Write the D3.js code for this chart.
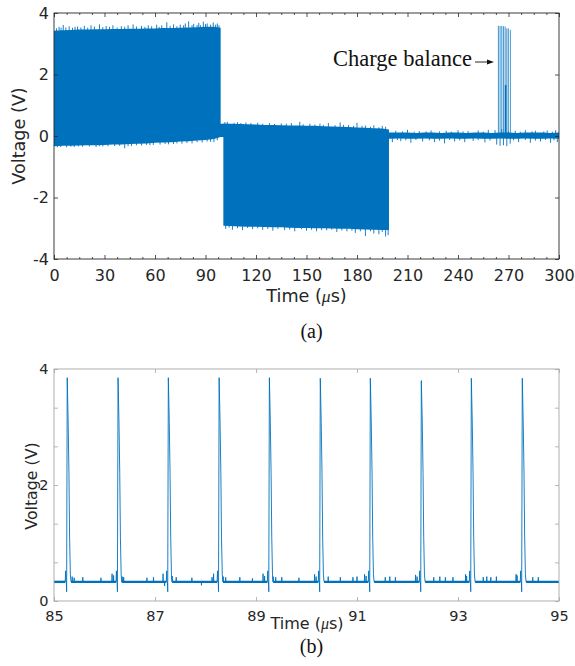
<!DOCTYPE html>
<html>
<head>
<meta charset="utf-8">
<script src="https://cdn.jsdelivr.net/npm/d3@7"></script>
<style>
  body { margin: 0; background: #fff; }
  svg { display: block; }
</style>
</head>
<body>
<svg id="chart" width="575" height="666"></svg>
<script>
// ---------- Panel (a): full stimulation sequence, 0–300 µs ----------
// Envelope of the dense pulse train (upper / lower edge of the filled band).
// Repeated times give the vertical steps between the three phases.
const aTime = [0, 5, 10, 15, 20, 25, 30, 35, 40, 45, 50, 55, 60, 65, 70, 75, 80, 85, 90, 95, 99,
  99, 100.6,
  100.6, 105, 110, 115, 120, 125, 130, 135, 140, 145, 150, 155, 160, 165, 170, 175, 180, 185, 190, 195, 199,
  199, 205, 210, 215, 220, 225, 230, 235, 240, 245, 250, 255, 260, 265, 270, 275, 280, 285, 290, 295, 300];
const aHigh = [3.42, 3.44, 3.45, 3.46, 3.46, 3.47, 3.47, 3.48, 3.48, 3.49, 3.49, 3.50, 3.50, 3.51, 3.51, 3.52, 3.53, 3.54, 3.55, 3.55, 3.52,
  0.40, 0.40,
  0.41, 0.40, 0.39, 0.38, 0.37, 0.36, 0.36, 0.35, 0.34, 0.34, 0.33, 0.33, 0.32, 0.31, 0.30, 0.29, 0.28, 0.27, 0.25, 0.24, 0.21,
  0.11, 0.11, 0.11, 0.10, 0.11, 0.11, 0.10, 0.11, 0.11, 0.10, 0.11, 0.11, 0.10, 0.11, 0.11, 0.10, 0.11, 0.11, 0.11, 0.10, 0.11];
const aLow = [-0.33, -0.32, -0.32, -0.31, -0.30, -0.30, -0.29, -0.28, -0.28, -0.26, -0.25, -0.24, -0.22, -0.21, -0.20, -0.18, -0.17, -0.15, -0.13, -0.10, -0.03,
  -0.03, -0.03,
  -2.92, -2.93, -2.94, -2.95, -2.95, -2.96, -2.97, -2.97, -2.98, -2.99, -2.99, -3.00, -3.00, -3.01, -3.02, -3.02, -3.03, -3.04, -3.05, -3.06, -3.06,
  -0.09, -0.08, -0.09, -0.09, -0.08, -0.09, -0.09, -0.08, -0.09, -0.09, -0.08, -0.09, -0.09, -0.08, -0.09, -0.09, -0.08, -0.09, -0.09, -0.08, -0.09];

// Overshoot spikes sticking out of the band edges (large and small).
const aSpikeTime = [
  // phase 1, upper edge
  1.5, 3, 4.2, 5.5, 7, 9, 11, 12.5, 14, 16, 18, 20, 22, 24, 27, 29, 31, 33, 35, 37.5, 40, 42, 44, 47, 49,
  52, 54, 56, 58, 61, 62.5, 64, 67, 69, 71, 73, 75, 77, 78, 80, 82, 83, 85, 86, 87, 88.7, 90, 91, 93, 94.6, 96, 97, 98,
  // phase 1, lower edge
  2, 4, 7.5, 10, 12, 14.5, 17, 21, 25, 27, 29, 32, 36, 39, 42, 44, 46, 49, 52, 55, 57, 59, 63, 66, 68, 71, 73, 76, 79, 82, 85, 88, 91, 93, 95, 97,
  // phase 2, upper edge
  101.5, 103, 107, 109, 111, 114, 117, 121, 124, 128, 131, 135, 138, 141, 146, 148, 152, 155, 158, 160, 163, 167, 170, 172,
  175, 178, 180, 183, 185, 188, 190, 193, 195, 197,
  // phase 2, lower edge
  102, 104, 106, 109, 112, 115, 118, 121, 124, 127, 130, 133, 137, 140, 143, 147, 150, 153, 156, 159, 162, 165, 168, 171,
  174, 177, 179, 182, 185, 188, 190, 193, 195, 197, 198.5,
  // phase 3, upper edge
  203, 207, 210, 214, 217, 221, 224, 229, 233, 236, 240, 243, 246, 252, 255, 258, 262, 266, 270, 274, 277, 280, 284, 286,
  291, 293, 296, 298,
  // phase 3, lower edge
  201, 204, 206, 209, 212, 215, 219, 223, 226, 229, 232, 235, 238, 241, 244, 249, 252, 256, 259, 263, 265, 267, 269, 271,
  273, 276, 280, 283, 286, 289, 292, 295, 297, 299];
const aSpikeV = [
  3.50, 3.55, 3.52, 3.61, 3.53, 3.57, 3.52, 3.55, 3.56, 3.53, 3.58, 3.52, 3.60, 3.56, 3.63, 3.54, 3.58, 3.55, 3.60, 3.53, 3.57, 3.55, 3.60, 3.63, 3.56,
  3.58, 3.55, 3.60, 3.57, 3.62, 3.55, 3.60, 3.70, 3.58, 3.63, 3.57, 3.62, 3.60, 3.66, 3.73, 3.60, 3.65, 3.61, 3.68, 3.60, 3.72, 3.64, 3.66, 3.62, 3.69, 3.62, 3.66, 3.60,
  -0.37, -0.36, -0.37, -0.35, -0.36, -0.34, -0.35, -0.34, -0.36, -0.33, -0.34, -0.33, -0.33, -0.32, -0.40, -0.33, -0.33, -0.30, -0.31, -0.29, -0.30, -0.29,
  -0.28, -0.26, -0.27, -0.26, -0.24, -0.25, -0.23, -0.24, -0.20, -0.21, -0.18, -0.19, -0.20, -0.14,
  0.45, 0.46, 0.43, 0.45, 0.42, 0.44, 0.42, 0.43, 0.40, 0.42, 0.39, 0.41, 0.40, 0.42, 0.46, 0.38, 0.40, 0.37, 0.40, 0.36, 0.42, 0.35, 0.44, 0.36,
  0.36, 0.33, 0.43, 0.33, 0.34, 0.30, 0.35, 0.28, 0.33, 0.30,
  -3.02, -2.98, -3.05, -3.00, -3.06, -2.99, -3.03, -3.00, -3.05, -3.02, -3.08, -3.02, -3.06, -3.04, -3.10, -3.03, -3.08, -3.05, -3.10, -3.06, -3.07, -3.05,
  -3.12, -3.07, -3.10, -3.08, -3.15, -3.10, -3.25, -3.10, -3.17, -3.20, -3.12, -3.27, -3.22,
  0.17, 0.15, 0.20, 0.14, 0.16, 0.15, 0.18, 0.15, 0.17, 0.14, 0.19, 0.15, 0.16, 0.18, 0.14, 0.20, 0.19, 0.22, 0.15, 0.17, 0.14, 0.19, 0.15, 0.17,
  0.15, 0.18, 0.14, 0.19,
  -0.20, -0.13, -0.17, -0.14, -0.22, -0.13, -0.18, -0.14, -0.20, -0.15, -0.24, -0.13, -0.18, -0.14, -0.20, -0.16, -0.13, -0.21, -0.15, -0.28, -0.32, -0.30, -0.33, -0.25,
  -0.14, -0.20, -0.13, -0.22, -0.15, -0.18, -0.13, -0.22, -0.14, -0.20];

// Charge-balance burst edges.
const cbTime = [264.0, 265.0, 266.0, 267.0, 268.0, 269.0, 269.9, 271.1];
const cbPeak = [3.58, 3.58, 3.58, 3.57, 3.56, 3.50, 3.50, 3.45];
const cbInnerTime = 268.3;
const cbInnerPeak = 1.66;

const aXTicks = [0, 30, 60, 90, 120, 150, 180, 210, 240, 270, 300];
const aXMinor = [7.5, 15, 22.5, 37.5, 45, 52.5, 67.5, 75, 82.5, 97.5, 105, 112.5, 127.5, 135, 142.5,
  157.5, 165, 172.5, 187.5, 195, 202.5, 217.5, 225, 232.5, 247.5, 255, 262.5, 277.5, 285, 292.5];
const aYTicks = [-4, -2, 0, 2, 4];

// ---------- Panel (b): zoom 85–95 µs ----------
const bPeakTime = [85.262, 86.268, 87.264, 88.270, 89.265, 90.273, 91.264, 92.274, 93.264, 94.273];
const bPeakV = [3.85, 3.85, 3.85, 3.85, 3.85, 3.84, 3.84, 3.80, 3.84, 3.84];
const bBase = 0.33;
// Shape of one pulse around its peak (null = the pulse's peak value).
const bShapeOffset = [-0.040, -0.032, -0.026, -0.018, -0.012, 0, 0.018, 0.034, 0.047, 0.062, 0.075];
const bShapeV = [0.33, 0.52, 0.33, 0.33, 0.16, null, 3.10, 2.20, 1.10, 0.45, 0.33];
// Small glitches on the baseline between pulses.
const bGlitchTime = [85.36, 85.40, 85.57, 85.93, 86.15, 86.18,
  86.35, 86.38, 86.84, 86.97, 87.16, 87.19,
  87.34, 87.42, 87.73, 87.92, 88.13, 88.16,
  88.35, 88.40, 88.68, 88.93, 89.14, 89.17,
  89.34, 89.39, 89.51, 89.85, 90.16, 90.19,
  90.43, 90.67, 90.92, 91.00, 91.15, 91.18,
  91.56, 91.65, 91.76, 92.16, 92.19,
  92.52, 92.64, 92.75, 92.90, 93.15, 93.17,
  93.50, 93.57, 93.65, 93.76, 94.15, 94.17,
  94.48, 94.59];
const bGlitchV = [0.42, 0.40, 0.41, 0.40, 0.47, 0.44,
  0.42, 0.41, 0.40, 0.41, 0.47, 0.26,
  0.43, 0.41, 0.40, 0.27, 0.41, 0.47,
  0.42, 0.41, 0.41, 0.39, 0.47, 0.43,
  0.42, 0.41, 0.41, 0.40, 0.46, 0.42,
  0.42, 0.41, 0.41, 0.42, 0.46, 0.43,
  0.41, 0.42, 0.41, 0.45, 0.42,
  0.41, 0.42, 0.41, 0.41, 0.46, 0.43,
  0.41, 0.42, 0.41, 0.42, 0.46, 0.44,
  0.41, 0.41];
const bXTicks = [85, 87, 89, 91, 93, 95];
const bYTicks = [0, 2 / 3, 4 / 3, 2, 8 / 3, 10 / 3, 4];
const bYLabels = [0, 2, 4];

// ---------- drawing ----------
const svg = d3.select('#chart');
const BLUE = '#0072BD';
const SANS = '"DejaVu Sans", Verdana, sans-serif';
const SERIF = '"Liberation Serif", "Times New Roman", serif';
const AX_A = '#262626';
const AX_B = '#a6a6a6';

svg.append('rect').attr('width', 575).attr('height', 666).attr('fill', '#fff');

function styleAxis(g, color, fontSize) {
  g.select('.domain').remove();
  g.selectAll('.tick line').attr('stroke', color).attr('stroke-width', 0.8);
  g.selectAll('.tick text').attr('fill', '#262626').attr('font-family', SANS).attr('font-size', fontSize);
}

// Panel (a)
const xA = d3.scaleLinear().domain([0, 300]).range([54, 559]);
const yA = d3.scaleLinear().domain([-4, 4]).range([259, 13]);
const gA = svg.append('g');

const env = aTime.map((t, i) => ({ t, hi: aHigh[i], lo: aLow[i] }));
gA.append('path')
  .datum(env)
  .attr('fill', BLUE)
  .attr('d', d3.area().x(d => xA(d.t)).y0(d => yA(d.lo)).y1(d => yA(d.hi)));

// middle of the band at time t, used to anchor each spike inside the fill
function bandMid(t) {
  let i = 1;
  while (i < env.length - 1 && env[i].t < t) i++;
  const a = env[i - 1], b = env[i];
  const f = b.t === a.t ? 0 : (t - a.t) / (b.t - a.t);
  return ((a.hi + a.lo) / 2) * (1 - f) + ((b.hi + b.lo) / 2) * f;
}
gA.append('g').selectAll('line')
  .data(aSpikeTime.map((t, i) => ({ t, v: aSpikeV[i] })))
  .join('line')
  .attr('x1', d => xA(d.t)).attr('x2', d => xA(d.t))
  .attr('y1', d => yA(d.v)).attr('y2', d => yA(bandMid(d.t)))
  .attr('stroke', BLUE).attr('stroke-width', 0.9);

gA.append('g').selectAll('line')
  .data(cbTime.map((t, i) => ({ t, v: cbPeak[i] })))
  .join('line')
  .attr('x1', d => xA(d.t)).attr('x2', d => xA(d.t))
  .attr('y1', d => yA(d.v)).attr('y2', yA(0))
  .attr('stroke', BLUE).attr('stroke-width', 0.9).attr('stroke-opacity', 0.85);
gA.append('line')
  .attr('x1', xA(cbInnerTime)).attr('x2', xA(cbInnerTime))
  .attr('y1', yA(cbInnerPeak)).attr('y2', yA(0))
  .attr('stroke', BLUE).attr('stroke-width', 1.6);

// box + ticks (a)
gA.append('rect').attr('x', 54).attr('y', 13).attr('width', 505).attr('height', 246)
  .attr('fill', 'none').attr('stroke', AX_A).attr('stroke-width', 0.9);

gA.append('g').attr('transform', 'translate(0,259)')
  .call(d3.axisBottom(xA).tickValues(aXTicks).tickSize(-4).tickPadding(10.5).tickFormat(d3.format('d')))
  .call(g => styleAxis(g, AX_A, 16));
gA.append('g').attr('transform', 'translate(0,259)')
  .call(d3.axisBottom(xA).tickValues(aXMinor).tickSize(-2).tickFormat(''))
  .call(g => styleAxis(g, AX_A, 16));
gA.append('g').attr('transform', 'translate(0,13)')
  .call(d3.axisTop(xA).tickValues(aXTicks).tickSize(-4).tickFormat(''))
  .call(g => styleAxis(g, AX_A, 16));
gA.append('g').attr('transform', 'translate(0,13)')
  .call(d3.axisTop(xA).tickValues(aXMinor).tickSize(-2).tickFormat(''))
  .call(g => styleAxis(g, AX_A, 16));
gA.append('g').attr('transform', 'translate(54,0)')
  .call(d3.axisLeft(yA).tickValues(aYTicks).tickSize(-4).tickPadding(5).tickFormat(d => String(d)))
  .call(g => styleAxis(g, AX_A, 16));
gA.append('g').attr('transform', 'translate(559,0)')
  .call(d3.axisRight(yA).tickValues(aYTicks).tickSize(-4).tickFormat(''))
  .call(g => styleAxis(g, AX_A, 16));

function timeLabel(sel, x, y, size) {
  const t = sel.append('text').attr('x', x).attr('y', y).attr('text-anchor', 'middle')
    .attr('font-family', SANS).attr('font-size', size).attr('fill', '#262626');
  t.append('tspan').text('Time (');
  t.append('tspan').attr('font-family', SERIF).attr('font-style', 'italic').text('μ');
  t.append('tspan').text('s)');
}
function voltLabel(sel, x, y, size) {
  sel.append('text').attr('transform', `translate(${x},${y}) rotate(-90)`)
    .attr('text-anchor', 'middle').attr('font-family', SANS).attr('font-size', size)
    .attr('fill', '#262626').text('Voltage (V)');
}
timeLabel(svg, 306.5, 302, 17.6);
voltLabel(svg, 25, 136, 17.6);

// annotation
svg.append('text').attr('x', 333).attr('y', 66)
  .attr('font-family', SERIF).attr('font-size', 22.5).attr('fill', '#111')
  .text('Charge balance');
svg.append('line').attr('x1', 475).attr('x2', 489).attr('y1', 62).attr('y2', 62)
  .attr('stroke', '#111').attr('stroke-width', 0.9);
svg.append('path').attr('d', 'M487,59.6 L494,62 L487,64.4 Z').attr('fill', '#111');

svg.append('text').attr('x', 311.5).attr('y', 338).attr('text-anchor', 'middle')
  .attr('font-family', SERIF).attr('font-size', 20).attr('fill', '#111').text('(a)');

// Panel (b)
const xB = d3.scaleLinear().domain([85, 95]).range([54, 559]);
const yB = d3.scaleLinear().domain([0, 4]).range([601, 369]);
const gB = svg.append('g');

const bPoints = [];
bPeakTime.forEach((tp, k) => {
  bShapeOffset.forEach((o, j) => {
    bPoints.push({ t: tp + o, v: bShapeV[j] === null ? bPeakV[k] : bShapeV[j] });
  });
});
bGlitchTime.forEach((t, i) => {
  bPoints.push({ t: t - 0.004, v: bBase }, { t, v: bGlitchV[i] }, { t: t + 0.004, v: bBase });
});
bPoints.push({ t: 85, v: bBase }, { t: 95, v: bBase });
bPoints.sort((a, b) => a.t - b.t);

// thicker baseline between pulses
const baseSegs = [];
let start = 85;
bPeakTime.forEach(tp => {
  baseSegs.push([start, tp + bShapeOffset[0]]);
  start = tp + bShapeOffset[bShapeOffset.length - 1];
});
baseSegs.push([start, 95]);
gB.append('g').selectAll('line').data(baseSegs).join('line')
  .attr('x1', d => xB(d[0])).attr('x2', d => xB(d[1]))
  .attr('y1', yB(bBase)).attr('y2', yB(bBase))
  .attr('stroke', BLUE).attr('stroke-width', 2.4);

gB.append('path').datum(bPoints)
  .attr('fill', 'none').attr('stroke', BLUE).attr('stroke-width', 0.9)
  .attr('stroke-linejoin', 'round')
  .attr('d', d3.line().x(d => xB(d.t)).y(d => yB(d.v)));

gB.append('rect').attr('x', 54).attr('y', 369).attr('width', 505).attr('height', 232)
  .attr('fill', 'none').attr('stroke', AX_B).attr('stroke-width', 0.9);
gB.append('g').attr('transform', 'translate(0,601)')
  .call(d3.axisBottom(xB).tickValues(bXTicks).tickSize(-4).tickPadding(9.5).tickFormat(d3.format('d')))
  .call(g => styleAxis(g, AX_B, 14.5));
gB.append('g').attr('transform', 'translate(0,369)')
  .call(d3.axisTop(xB).tickValues(bXTicks).tickSize(-4).tickFormat(''))
  .call(g => styleAxis(g, AX_B, 14.5));
gB.append('g').attr('transform', 'translate(54,0)')
  .call(d3.axisLeft(yB).tickValues(bYTicks).tickSize(-4).tickPadding(5.5)
    .tickFormat(d => bYLabels.some(v => Math.abs(v - d) < 1e-9) ? d3.format('d')(d) : ''))
  .call(g => styleAxis(g, AX_B, 14.5));
gB.append('g').attr('transform', 'translate(559,0)')
  .call(d3.axisRight(yB).tickValues(bYTicks).tickSize(-4).tickFormat(''))
  .call(g => styleAxis(g, AX_B, 14.5));

timeLabel(svg, 307, 629, 16);
voltLabel(svg, 37, 486, 15.8);

svg.append('text').attr('x', 311.5).attr('y', 653).attr('text-anchor', 'middle')
  .attr('font-family', SERIF).attr('font-size', 20).attr('fill', '#111').text('(b)');
</script>
</body>
</html>
